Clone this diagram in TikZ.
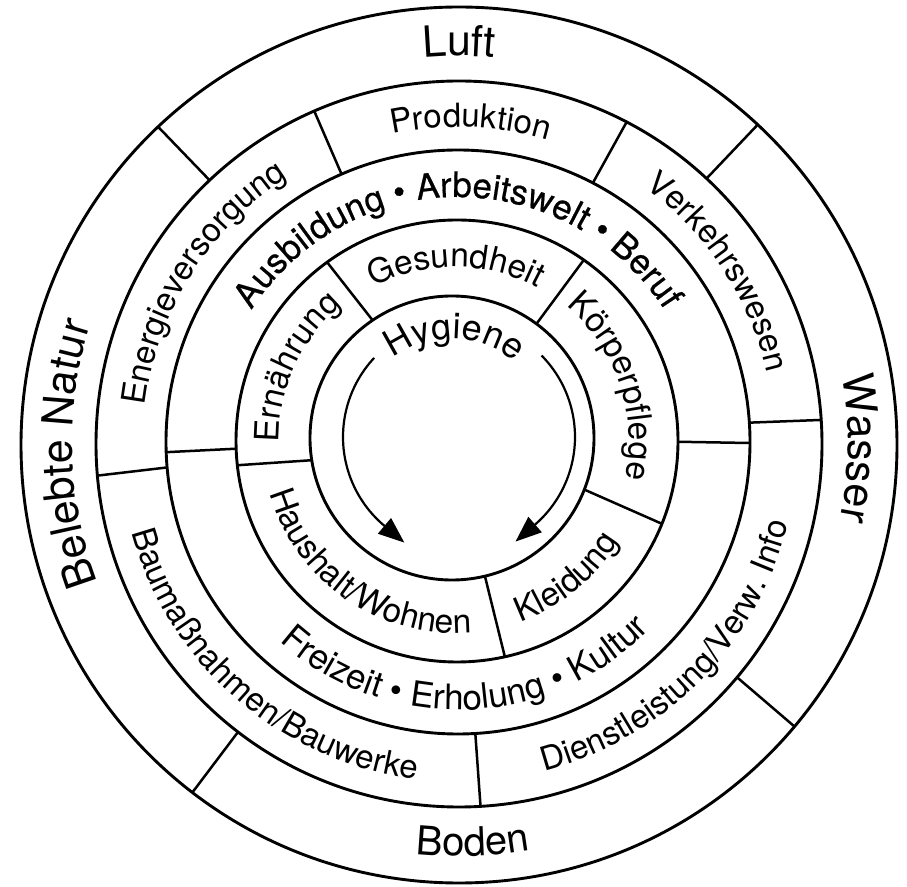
\documentclass[tikz,border=0pt]{standalone}
\usepackage{fontspec}
\setmainfont{TeX Gyre Heros}
\newfontfamily\semibfont{TeX Gyre Heros}[FakeBold=0.5]
\usetikzlibrary{decorations.text,calc,arrows.meta}
\newcommand\fsA{\fontsize{43}{50}\selectfont}
\newcommand\fsB{\fontsize{40}{48}\selectfont}
\newcommand\fsC{\fontsize{33}{39}\selectfont}
\newcommand\fsD{\semibfont\fontsize{35}{42}\selectfont}
\newcommand\fsE{\fontsize{35}{42}\selectfont}
\newcommand\fsF{\fontsize{33.5}{40}\selectfont}
\newcommand\fsG{\fontsize{36}{42}\selectfont}
\newcommand\cwtext[5]{%
  \pgfmathsetmacro\cwsa{#3+85}\pgfmathsetmacro\cwea{#3-85}%
  \path[decorate,decoration={text along path,text align=center,text={|#4|#5}}]
    ($(#1)+(\cwsa:#2)$) arc[start angle=\cwsa,end angle=\cwea,radius=#2];}
\newcommand\ccwtext[5]{%
  \pgfmathsetmacro\cwsa{#3-85}\pgfmathsetmacro\cwea{#3+85}%
  \path[decorate,decoration={text along path,text align=center,text={|#4|#5}}]
    ($(#1)+(\cwsa:#2)$) arc[start angle=\cwsa,end angle=\cwea,radius=#2];}
\newcommand\divline[6]{%
  \draw[divider] ($(#1)+(#3:#2)$) -- ($(#4)+(#6:#5)$);}
\tikzset{
  ring/.style={line width=2.9pt},
  divider/.style={line width=2.5pt},
  cycle arrow/.style={line width=2.2pt,-{Triangle[length=26pt,width=20pt]}},
}
\begin{document}
\begin{tikzpicture}[x=1pt,y=1pt]
\fill[white] (0,0) rectangle (907,886);
\useasboundingbox (0,0) rectangle (907,886);
% centres
\coordinate (O1) at (459,441);
\coordinate (O2) at (459,442);
\coordinate (O3) at (458,444);
\coordinate (O4) at (457,445);
\coordinate (O5) at (452,448);
\coordinate (OA) at (459,449);
\coordinate (T1) at (459,443);
\coordinate (T2) at (459,443);
\coordinate (T3) at (458,444);
\coordinate (T4) at (455,446);
\coordinate (T5) at (452,448);
% circles
\draw[ring] (O1) circle[radius=438];
\draw[ring] (O2) circle[radius=363];
\draw[ring] (O3) circle[radius=292];
\draw[ring] (O4) circle[radius=221];
\draw[ring] (O5) circle[radius=142];
% ring 1 dividers
\divline{O1}{438}{47}{O2}{363}{47}
\divline{O1}{438}{133.4}{O2}{363}{133.4}
\divline{O1}{438}{232.5}{O2}{363}{232.5}
\divline{O1}{438}{320}{O2}{363}{320}
% ring 2 dividers
\divline{O2}{363}{62.5}{O3}{292}{62.5}
\divline{O2}{363}{113.5}{O3}{292}{113.5}
\divline{O2}{363}{185}{O3}{292}{185}
\divline{O2}{363}{273.4}{O3}{292}{273.4}
\divline{O2}{363}{3.8}{O3}{292}{3.8}
% ring 3 dividers
\divline{O3}{292}{-0.2}{O4}{221}{-0.2}
\divline{O3}{292}{182}{O4}{221}{182}
% ring 4 dividers
\divline{O4}{221}{126}{O5}{142}{124}
\divline{O4}{221}{55}{O5}{142}{53.5}
\divline{O4}{221}{338}{O5}{142}{338.7}
\divline{O4}{221}{282.5}{O5}{142}{283.4}
\divline{O4}{221}{186.3}{O5}{142}{189}
% ring 1 texts
\cwtext{T1}{387}{90}{\fsA}{Luft}
\cwtext{T1}{389}{-0.7}{\fsA}{Wasser}
\cwtext{T1}{387}{181.6}{\fsA}{Belebte Natur}
\ccwtext{T1}{413}{272}{\fsB}{Boden}
% ring 2 texts
\cwtext{T2}{316}{87.9}{\fsC}{Produktion}
\cwtext{T2}{316}{148}{\fsC}{Energieversorgung}
\cwtext{T2}{316}{33.4}{\fsC}{Verkehrswesen}
\ccwtext{T2}{339}{315.5}{\fsC}{Dienstleistung/Verw. Info}
\ccwtext{T2}{339}{229}{\fsC}{Baumaßnahmen/Bauwerke}
% ring 3 texts
\cwtext{T3}{245}{90}{\fsD}{Ausbildung • Arbeitswelt • Beruf}
\ccwtext{T3}{268}{272}{\fsE}{Freizeit • Erholung • Kultur}
% ring 4 texts
\cwtext{T4}{173}{89.7}{\fsF}{Gesundheit}
\cwtext{T4}{174}{18.8}{\fsF}{Körperpflege}
\cwtext{T4}{176}{155.5}{\fsF}{Ernährung}
\ccwtext{T4}{193}{309}{\fsF}{Kleidung}
\ccwtext{T4}{193}{235.5}{\fsF}{Haushalt/Wohnen}
% centre
\cwtext{T5}{99}{88.5}{\fsG}{Hygiene}
\draw[cycle arrow] ($(OA)+(137:116)$) arc[start angle=137,end angle=230,radius=116] -- ++(320:26);
\draw[cycle arrow] ($(OA)+(44.6:116)$) arc[start angle=44.6,end angle=-49,radius=116] -- ++(221:26);
\end{tikzpicture}
\end{document}
